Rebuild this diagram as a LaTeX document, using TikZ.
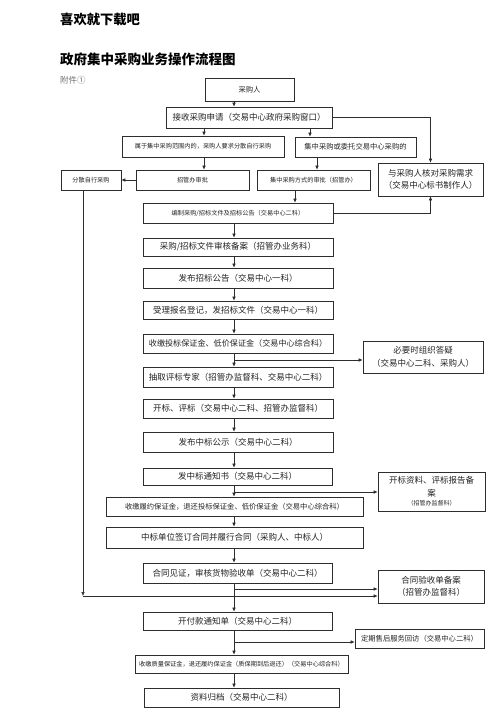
\documentclass[tikz,border=0pt]{standalone}
\usepackage{fontspec}
\newfontfamily\cjk{Noto Sans CJK SC}
\usetikzlibrary{positioning, arrows.meta, calc}
\definecolor{LineColor}{RGB}{45,45,45}
\definecolor{TextColor}{RGB}{35,35,35}
\definecolor{NoteColor}{RGB}{110,110,110}
\tikzstyle{arrow} = [LineColor, line width=0.6pt, -{Latex[length=4pt,width=3.6pt]}]
\tikzstyle{link} = [LineColor, line width=0.6pt]
\tikzset{
  box/.style={draw=LineColor, line width=0.7pt, rectangle, inner sep=0pt, align=center, text=TextColor},
  tiny text/.style={font=\cjk\fontsize{6.2}{8}\selectfont},
  small text/.style={font=\cjk\fontsize{7.3}{9}\selectfont},
  mid text/.style={font=\cjk\fontsize{8.1}{10}\selectfont},
  big text/.style={font=\cjk\fontsize{8.5}{12.5}\selectfont},
  head text/.style={anchor=west, inner sep=0pt, text=black}
}

\begin{document}
\begin{tikzpicture}[x=1pt, y=-1pt]
                \useasboundingbox (0,0) rectangle (500,708);

                % Page heading
                \node[head text, font=\cjk\bfseries\fontsize{13.3}{15}\selectfont] (hint) at (60,20) {喜欢就下载吧};
                \node[head text, font=\cjk\bfseries\fontsize{13.5}{15}\selectfont] (title) at (60,59) {政府集中采购业务操作流程图};
                \node[head text, text=NoteColor, font=\cjk\fontsize{8.5}{10}\selectfont] (annex) at (60,80) {附件①};

                % Application stage
                \node[box, small text, minimum width=89pt, minimum height=23pt] (buyer) at (249.5,89.5) {采购人};
                \node[box, big text, minimum width=166pt, minimum height=21pt] (receive) at (249,117.5) {接收采购申请（交易中心政府采购窗口）};
                \node[box, tiny text, minimum width=162pt, minimum height=21pt] (selfrange) at (203,146.5) {属于集中采购范围内的，采购人要求分散自行采购};
                \node[box, small text, minimum width=121pt, minimum height=20pt] (central) at (355.5,147) {集中采购或委托交易中心采购的};
                \node[box, big text, minimum width=105pt, minimum height=33pt] (checkneed) at (430.5,179.5) {与采购人核对采购需求\\（交易中心标书制作人）};
                \node[box, tiny text, minimum width=60pt, minimum height=20pt] (selfbuy) at (91,180) {分散自行采购};
                \node[box, tiny text, minimum width=113pt, minimum height=20pt] (approve) at (192.5,180) {招管办审批};
                \node[box, tiny text, minimum width=113pt, minimum height=20pt] (method) at (313.5,180) {集中采购方式的审批（招管办）};
                \node[box, tiny text, minimum width=190pt, minimum height=20pt] (draft) at (238,213) {编制采购/招标文件及招标公告（交易中心二科）};

                % Tender stage
                \node[box, big text, minimum width=190pt, minimum height=18pt] (audit) at (238,247) {采购/招标文件审核备案（招管办业务科）};
                \node[box, big text, minimum width=190pt, minimum height=20pt] (publish) at (238,278) {发布招标公告（交易中心一科）};
                \node[box, big text, minimum width=190pt, minimum height=18pt] (register) at (238,310) {受理报名登记，发招标文件（交易中心一科）};
                \node[box, mid text, minimum width=190pt, minimum height=19pt] (deposit) at (238,343.5) {收缴投标保证金、低价保证金（交易中心综合科）};
                \node[box, big text, minimum width=120pt, minimum height=32pt] (qa) at (423,357) {必要时组织答疑\\（交易中心二科、采购人）};
                \node[box, big text, minimum width=190pt, minimum height=20pt] (expert) at (238,377) {抽取评标专家（招管办监督科、交易中心二科）};
                \node[box, big text, minimum width=190pt, minimum height=19pt] (evaluate) at (238,408.5) {开标、评标（交易中心二科、招管办监督科）};
                \node[box, big text, minimum width=190pt, minimum height=20pt] (announce) at (238,442) {发布中标公示（交易中心二科）};
                \node[box, big text, minimum width=189pt, minimum height=17pt] (notice) at (237.5,476.5) {发中标通知书（交易中心二科）};
                \node[box, big text, minimum width=107pt, minimum height=39pt] (record) at (431.5,491.5) {开标资料、评标报告备\\案\\[-3pt]{\fontsize{6}{7}\selectfont（招管办监督科）}};

                % Contract stage
                \node[box, small text, minimum width=257pt, minimum height=19pt] (bond) at (234.5,506.5) {收缴履约保证金，退还投标保证金、低价保证金（交易中心综合科）};
                \node[box, big text, minimum width=257pt, minimum height=21pt] (contract) at (234.5,537.5) {中标单位签订合同并履行合同（采购人、中标人）};
                \node[box, big text, minimum width=189pt, minimum height=20pt] (witness) at (237.5,573) {合同见证，审核货物验收单（交易中心二科）};
                \node[box, big text, minimum width=106pt, minimum height=33pt] (accept) at (431,586.5) {合同验收单备案\\（招管办监督科）};
                \node[box, big text, minimum width=189pt, minimum height=18pt] (payment) at (237.5,621) {开付款通知单（交易中心二科）};
                \node[box, small text, minimum width=129pt, minimum height=19pt] (visit) at (419.5,638.5) {定期售后服务回访（交易中心二科）};
                \node[box, tiny text, minimum width=213pt, minimum height=18pt] (quality) at (241.5,664) {收缴质量保证金，退还履约保证金（质保期到后退还）（交易中心综合科）};
                \node[box, big text, minimum width=195pt, minimum height=19pt] (archive) at (241.5,697.5) {资料归档（交易中心二科）};

                % Fork points
                \coordinate (axis) at (234,0);
                \coordinate (leftfork) at (204,0);
                \coordinate (rightfork) at (310,0);
                \coordinate (methodfork) at (317,0);
                \coordinate (draftfork) at (295,0);
                \coordinate (qafork) at (234,360);
                \coordinate (recordfork) at (234,492);
                \coordinate (acceptfork) at (234,589);
                \coordinate (selfdrop) at (83,596);
                \coordinate (visitfork) at (234,642);

                % Upper connectors
                \draw[arrow] (buyer.south -| axis) -- (receive.north -| axis);
                \draw[arrow] (receive.south -| leftfork) -- (selfrange.north -| leftfork);
                \draw[arrow] (receive.south -| rightfork) -- (central.north -| rightfork);
                \draw[arrow] (receive.east) -| (checkneed.north);
                \draw[arrow] (selfrange.south -| leftfork) -- (approve.north -| leftfork);
                \draw[arrow] (central.south -| methodfork) -- (method.north -| methodfork);
                \draw[arrow] (approve.west) -- (selfbuy.east);
                \draw[arrow] (method.south -| draftfork) -- (draft.north -| draftfork);
                \draw[arrow] (draft.east) -| (checkneed.south);

                % Main line
                \foreach \a/\b in {draft/audit, audit/publish, publish/register, register/deposit,
                                   deposit/expert, expert/evaluate, evaluate/announce, announce/notice,
                                   notice/bond, bond/contract, contract/witness, witness/payment,
                                   payment/quality, quality/archive} {
                        \draw[arrow] (\a.south -| axis) -- (\b.north -| axis);
                    }

                % Side branches
                \draw[arrow] (qafork) -- (qafork -| qa.west);
                \draw[arrow] (recordfork) -- (recordfork -| record.west);
                \draw[arrow] (acceptfork) -- (acceptfork -| accept.west);
                \draw[arrow] (visitfork) -- (visitfork -| visit.west);

                % Decentralised purchase line
                \draw[arrow] (selfbuy.south -| selfdrop) -- (selfdrop);
                \draw[arrow] (selfdrop) -- (selfdrop -| accept.west);
            \end{tikzpicture}
\end{document}
